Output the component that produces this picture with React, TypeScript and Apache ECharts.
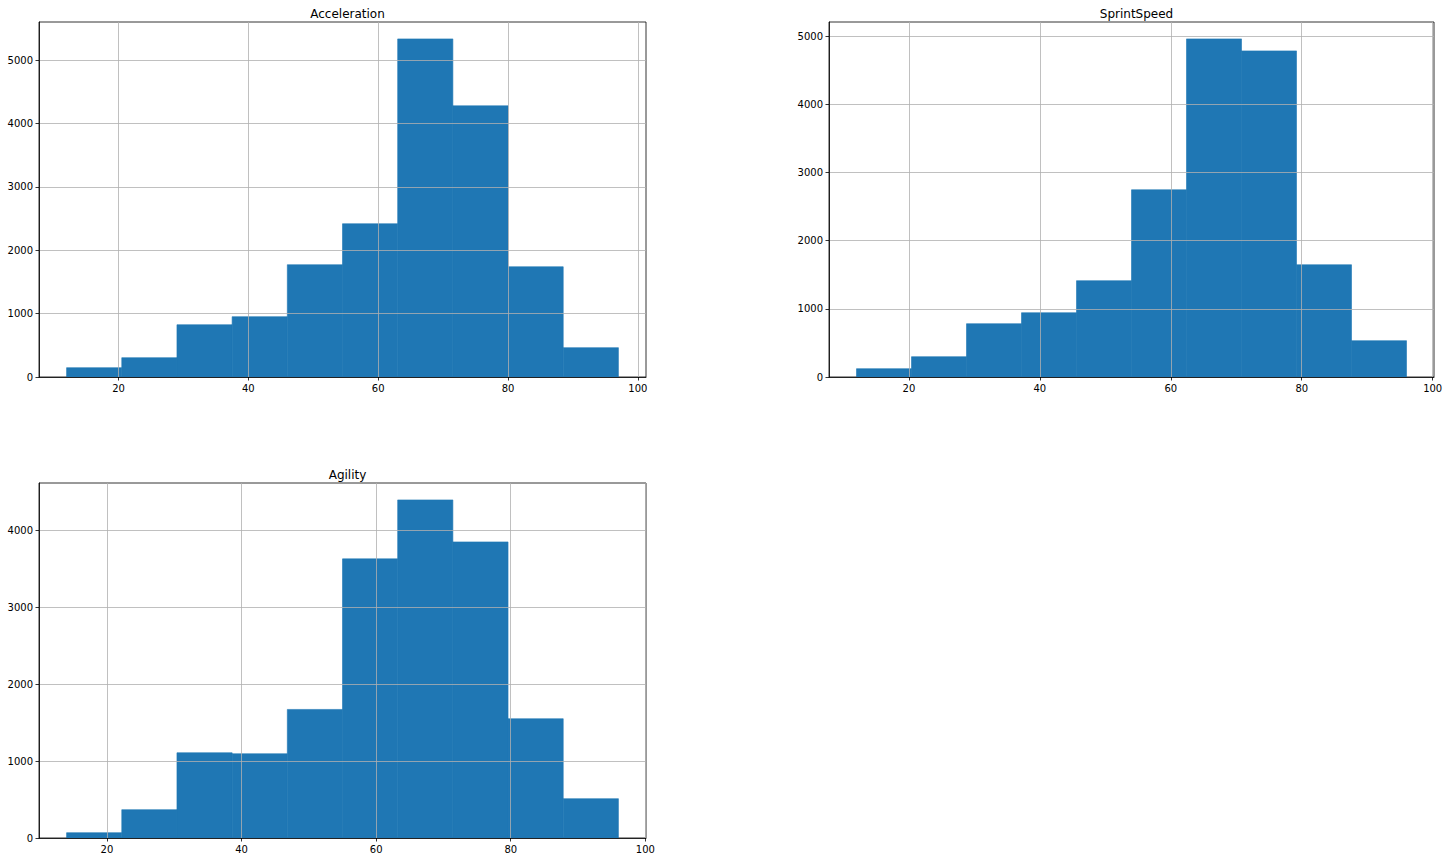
import React, { useEffect, useRef } from "react";
import * as echarts from "echarts";

// ---- Data ----
const titles = ["Acceleration", "SprintSpeed", "Agility"];

const accelerationEdges = [12, 20.5, 29, 37.5, 46, 54.5, 63, 71.5, 80, 88.5, 97];
const accelerationCounts = [147, 305, 825, 952, 1772, 2419, 5336, 4280, 1740, 463];

const sprintSpeedEdges = [12, 20.4, 28.8, 37.2, 45.6, 54, 62.4, 70.8, 79.2, 87.6, 96];
const sprintSpeedCounts = [122, 298, 782, 943, 1413, 2747, 4961, 4785, 1647, 533];

const agilityEdges = [14, 22.2, 30.4, 38.6, 46.8, 55, 63.2, 71.4, 79.6, 87.8, 96];
const agilityCounts = [69, 368, 1108, 1095, 1671, 3628, 4394, 3848, 1550, 511];

const xTicks = [20, 40, 60, 80, 100];
const yTicksAccSprint = [0, 1000, 2000, 3000, 4000, 5000];
const yTicksAgility = [0, 1000, 2000, 3000, 4000];

const xRanges = [
  [7.75, 101.25],
  [7.8, 100.2],
  [9.9, 100.1],
];
const yMaxes = [5603, 5209, 4614];

const BAR = "#1f77b4";
const FONT = "DejaVu Sans";

function binsOf(edges: number[], counts: number[]) {
  return counts.map((c, i) => [edges[i], edges[i + 1], c]);
}

export default function App() {
  const ref = useRef<HTMLDivElement>(null);

  useEffect(() => {
    if (!ref.current) return;
    const chart = echarts.init(ref.current, undefined, { renderer: "svg" });

    const grids = [
      { left: 39, top: 22, width: 607, height: 355 },
      { left: 829, top: 22, width: 605, height: 355 },
      { left: 39, top: 483, width: 607, height: 355 },
    ];
    const datasets = [
      binsOf(accelerationEdges, accelerationCounts),
      binsOf(sprintSpeedEdges, sprintSpeedCounts),
      binsOf(agilityEdges, agilityCounts),
    ];
    const yTickSets = [yTicksAccSprint, yTicksAccSprint, yTicksAgility];
    const plain = (v: number) => String(v);

    const option: any = {
      animation: false,
      backgroundColor: "#ffffff",
      title: grids.map((g, i) => ({
        text: titles[i],
        left: g.left + g.width / 2,
        top: g.top - 19,
        textAlign: "center",
        textStyle: {
          fontFamily: FONT,
          fontSize: 12,
          fontWeight: "normal",
          color: "#000",
        },
      })),
      grid: grids.map((g) => ({
        ...g,
        show: true,
        borderColor: "#000",
        borderWidth: 0.8,
        backgroundColor: "transparent",
        containLabel: false,
      })),
      xAxis: grids.map((_, i) => ({
        type: "value",
        gridIndex: i,
        min: xRanges[i][0],
        max: xRanges[i][1],
        minInterval: 20,
        maxInterval: 20,
        z: 3,
        axisLine: { show: true, onZero: false, lineStyle: { color: "#000", width: 0.8 } },
        axisTick: {
          show: true,
          length: 3.5,
          customValues: xTicks,
          lineStyle: { color: "#000", width: 0.8 },
        },
        axisLabel: {
          customValues: xTicks,
          formatter: plain,
          margin: 6,
          fontFamily: FONT,
          fontSize: 10,
          color: "#000",
        },
        splitLine: { show: true, lineStyle: { color: "#b0b0b0", width: 0.8 } },
      })),
      yAxis: grids.map((_, i) => ({
        type: "value",
        gridIndex: i,
        min: 0,
        max: yMaxes[i],
        interval: 1000,
        z: 3,
        axisLine: { show: true, lineStyle: { color: "#000", width: 0.8 } },
        axisTick: {
          show: true,
          length: 3.5,
          customValues: yTickSets[i],
          lineStyle: { color: "#000", width: 0.8 },
        },
        axisLabel: {
          customValues: yTickSets[i],
          formatter: plain,
          margin: 6,
          fontFamily: FONT,
          fontSize: 10,
          color: "#000",
        },
        splitLine: { show: true, lineStyle: { color: "#b0b0b0", width: 0.8 } },
      })),
      series: datasets.map((data, i) => ({
        type: "custom",
        name: titles[i],
        xAxisIndex: i,
        yAxisIndex: i,
        data,
        encode: { x: [0, 1], y: 2 },
        renderItem: (params: any, api: any) => {
          const x0 = api.value(0);
          const x1 = api.value(1);
          const c = api.value(2);
          const p0 = api.coord([x0, c]);
          const p1 = api.coord([x1, 0]);
          return {
            type: "rect",
            shape: {
              x: p0[0],
              y: p0[1],
              width: p1[0] - p0[0],
              height: p1[1] - p0[1],
            },
            style: { fill: BAR, stroke: BAR, lineWidth: 0.6 },
          };
        },
      })),
    };

    chart.setOption(option);
    return () => chart.dispose();
  }, []);

  return (
    <div
      ref={ref}
      style={{ position: "fixed", left: 0, top: 0, width: 1449, height: 862, background: "#fff" }}
    />
  );
}
